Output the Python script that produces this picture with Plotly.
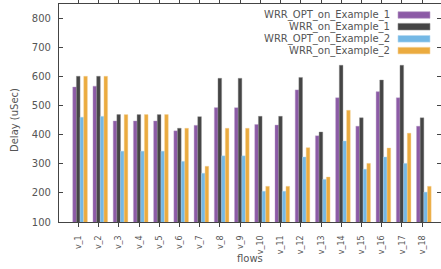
import plotly.graph_objects as go

flows = [f"v_{i}" for i in range(1, 19)]
series_names = ["WRR_OPT_on_Example_1", "WRR_on_Example_1",
                "WRR_OPT_on_Example_2", "WRR_on_Example_2"]
wrr_opt_ex1 = [565, 568, 448, 448, 448, 414, 433, 494, 494, 436, 434, 555, 397, 528, 430, 549, 528, 430]
wrr_ex1     = [602, 602, 470, 470, 470, 423, 463, 595, 595, 464, 464, 598, 410, 640, 459, 589, 640, 459]
wrr_opt_ex2 = [461, 464, 344, 344, 344, 309, 268, 328, 328, 206, 206, 324, 247, 379, 282, 324, 302, 203]
wrr_ex2     = [602, 602, 470, 470, 470, 423, 292, 423, 423, 223, 223, 356, 255, 485, 302, 355, 406, 223]
series_values = [wrr_opt_ex1, wrr_ex1, wrr_opt_ex2, wrr_ex2]
colors = ["#8c5ba6", "#454545", "#74b8e5", "#ebab3f"]
edge_colors = ["#b9a0c8", "#8a8a8a", "#b5d8f0", "#f3d29a"]
y_ticks = [100, 200, 300, 400, 500, 600, 700, 800]

bar_w = 0.181
offsets = [-0.28, -0.099, 0.082, 0.263]

fig = go.Figure()
for name, vals, c, ec, off in zip(series_names, series_values, colors, edge_colors, offsets):
    fig.add_trace(go.Bar(
        x=flows, y=vals, name=name, width=bar_w, offset=off,
        marker=dict(color=c, line=dict(color=ec, width=0.4)),
        showlegend=False,
    ))
# helper trace for the right-hand tick axis
fig.add_trace(go.Scatter(x=[], y=[], yaxis="y2", showlegend=False))

gray = "#555555"
axc = "#444444"
font = "DejaVu Sans"

L, R, T, B = 59, 0, 4, 47
W, H = 441, 269
plot_w = W - L - R
plot_h = H - T - B

fig.update_layout(
    width=W, height=H,
    margin=dict(l=L, r=R, t=T, b=B, autoexpand=False),
    paper_bgcolor="white", plot_bgcolor="white",
    barmode="overlay",
    font=dict(family=font, size=10, color=gray),
    xaxis=dict(
        range=[-0.96, 17.93], showgrid=False, zeroline=False, automargin=False,
        showline=True, linecolor=axc, linewidth=1.2, mirror="ticks",
        ticks="outside", ticklen=4, tickcolor=axc, tickwidth=1,
        tickangle=-90, tickfont=dict(size=8, color=gray),
        ticklabelstandoff=5,
    ),
    yaxis=dict(
        range=[100, 851], showgrid=False, zeroline=False, automargin=False,
        showline=True, linecolor=axc, linewidth=1.2,
        ticks="inside", ticklen=4, tickcolor=axc, tickwidth=1,
        tickvals=y_ticks, tickfont=dict(size=10, color=gray),
        ticklabelstandoff=5,
    ),
    yaxis2=dict(
        overlaying="y", side="right", range=[100, 851], automargin=False,
        showgrid=False, zeroline=False, showline=False,
        ticks="inside", ticklen=4, tickcolor=axc, tickwidth=1,
        tickvals=y_ticks, showticklabels=False,
    ),
    showlegend=False,
)

# axis titles
fig.add_annotation(text="flows", xref="paper", yref="paper",
                   x=(250 - L) / plot_w, y=(222 - 258) / plot_h,
                   xanchor="center", yanchor="middle", showarrow=False,
                   font=dict(size=10, color=gray))
fig.add_annotation(text="Delay (uSec)", xref="paper", yref="paper",
                   x=(15 - L) / plot_w, y=(222 - 120) / plot_h,
                   xanchor="center", yanchor="middle", showarrow=False, textangle=-90,
                   font=dict(size=10, color=gray))

# legend (text right-aligned, swatch on the right)
row_y = [15, 26.7, 38.8, 50.6]
for name, c, ec, ry in zip(series_names, colors, edge_colors, row_y):
    yp = (222 - ry) / plot_h
    fig.add_annotation(text=name, xref="paper", yref="paper",
                       x=(392 - L) / plot_w, y=yp, xanchor="right", yanchor="middle",
                       showarrow=False, font=dict(size=10, color=gray))
    fig.add_shape(type="rect", xref="paper", yref="paper",
                  x0=(398 - L) / plot_w, x1=(430 - L) / plot_w,
                  y0=yp - 3.3 / plot_h, y1=yp + 3.3 / plot_h,
                  fillcolor=c, line=dict(color=ec, width=0.6))

fig.write_html("out.html",
               config={"displayModeBar": False},
               post_script="document.body.style.margin='0';document.body.style.overflow='hidden';")
